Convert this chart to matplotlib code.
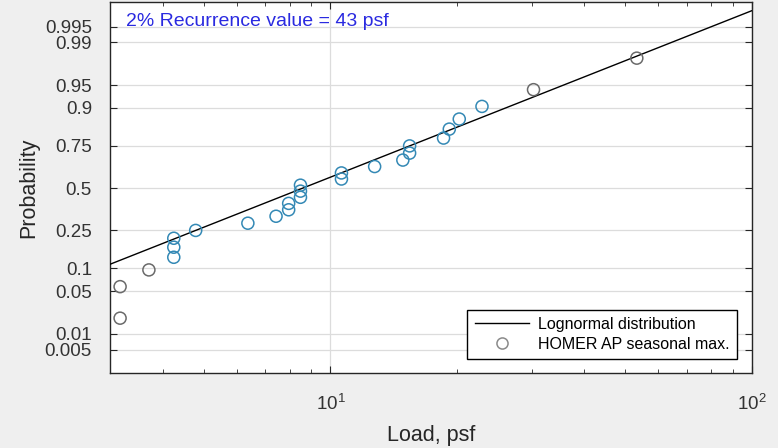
import matplotlib.pyplot as plt
import numpy as np
from statistics import NormalDist
from matplotlib.ticker import FixedLocator, FixedFormatter, NullFormatter, LogLocator

plt.rcParams['font.family'] = ['Liberation Sans', 'DejaVu Sans']
plt.rcParams['mathtext.default'] = 'regular'

# seasonal maxima (psf) and their plotting positions
load = [3.17, 3.17, 3.71, 4.25, 4.25, 4.25, 4.79, 6.37, 7.43, 7.96, 7.96,
        8.49, 8.49, 8.49, 10.62, 10.62, 12.73, 14.85, 15.41, 15.41, 18.55,
        19.14, 20.21, 22.88, 30.32, 53.3]
prob = [0.019, 0.058, 0.096, 0.135, 0.173, 0.212, 0.250, 0.288, 0.327,
        0.365, 0.404, 0.442, 0.481, 0.519, 0.558, 0.596, 0.635, 0.673,
        0.712, 0.750, 0.788, 0.827, 0.865, 0.904, 0.942, 0.981]
# points drawn in blue (the rest stay grey)
blue = [False, False, False] + [True] * 21 + [False, False]

prob_ticks = [0.005, 0.01, 0.05, 0.1, 0.25, 0.5, 0.75, 0.9, 0.95, 0.99, 0.995]
prob_labels = ['0.005', '0.01', '0.05', '0.1', '0.25', '0.5', '0.75', '0.9',
               '0.95', '0.99', '0.995']

nd = NormalDist()


def fwd(p):
    p = np.clip(np.asarray(p, dtype=float), 1e-9, 1 - 1e-9)
    return np.array([nd.inv_cdf(v) for v in p.ravel()]).reshape(p.shape)


def inv(z):
    z = np.asarray(z, dtype=float)
    return np.array([nd.cdf(v) for v in z.ravel()]).reshape(z.shape)


# reference line through the quartiles (as probplot does)
q25, q75 = 4.79, 15.41
mu = (np.log(q25) + np.log(q75)) / 2
sigma = (np.log(q75) - np.log(q25)) / (2 * nd.inv_cdf(0.75))

fig = plt.figure(figsize=(7.78, 4.48), dpi=100, facecolor='#efefef')
ax = fig.add_axes([0.1414, 0.1674, 0.8252, 0.828])
ax.set_facecolor('white')

ax.set_xscale('log')
ax.set_yscale('function', functions=(fwd, inv))
ax.set_xlim(3.0, 100)
ax.set_ylim(inv(-2.95), inv(2.97))

xs = np.logspace(np.log10(3.0), 2, 200)
line_p = inv((np.log(xs) - mu) / sigma)
ln, = ax.plot(xs, line_p, color='black', lw=1.0, label='Lognormal distribution', zorder=3)

grey = '#6a6a6a'
cols = ['#3489b5' if b else grey for b in blue]
ax.scatter(load, prob, s=75, facecolors='none', edgecolors=cols, linewidths=1.1, zorder=4)
leg_marker, = ax.plot([], [], 'o', ms=8, mfc='none', mec='#8a8a8a', mew=1.1,
                      label='HOMER AP seasonal max.')

ax.yaxis.set_major_locator(FixedLocator(prob_ticks))
ax.yaxis.set_major_formatter(FixedFormatter(prob_labels))
ax.yaxis.set_minor_formatter(NullFormatter())
ax.xaxis.set_major_locator(LogLocator(base=10))
ax.xaxis.set_minor_locator(LogLocator(base=10, subs=np.arange(2, 10)))
ax.xaxis.set_minor_formatter(NullFormatter())

ax.grid(True, which='major', color='#dcdcdc', lw=0.9)
ax.set_axisbelow(True)
ax.tick_params(which='both', direction='in', top=True, right=True,
               colors='#262626', labelcolor='#333333')
ax.tick_params(which='major', length=5, labelsize=13.5)
ax.tick_params(which='minor', length=3)
ax.tick_params(axis='y', pad=13)
ax.tick_params(axis='x', pad=15)
for s in ax.spines.values():
    s.set_color('#262626')
    s.set_linewidth(1.0)

ax.set_xlabel('Load, psf', fontsize=15.5, color='#262626', labelpad=8)
ax.set_ylabel('Probability', fontsize=15.5, color='#262626', labelpad=4)

ax.text(0.025, 0.97, '2% Recurrence value = 43 psf', transform=ax.transAxes,
        color='#2a2ae0', fontsize=14, va='top', ha='left')

leg = ax.legend(handles=[ln, leg_marker], loc='lower right', fontsize=11.5,
                fancybox=False, framealpha=1, edgecolor='black',
                borderpad=0.45, handlelength=3.4, handletextpad=0.6,
                labelspacing=0.3, borderaxespad=0,
                bbox_to_anchor=(0.977, 0.038))
leg.get_frame().set_linewidth(1.0)

fig.savefig('out.png', dpi=100, facecolor=fig.get_facecolor())
